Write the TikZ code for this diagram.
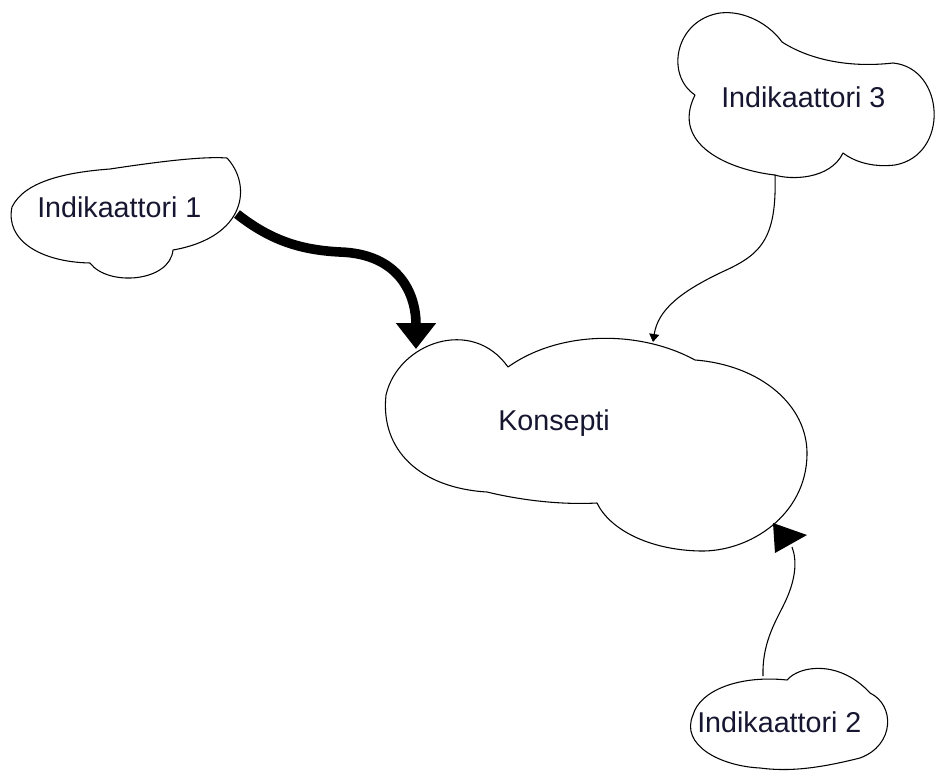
\documentclass[tikz,border=0pt]{standalone}
\usepackage{fontspec}
\setmainfont{Liberation Sans}
\usetikzlibrary{arrows.meta}
\definecolor{labelink}{RGB}{22,22,48}
\tikzset{
  cloudline/.style={draw=black, line width=0.8pt, fill=white, line join=round},
  label/.style={anchor=base west, inner sep=0pt, text=labelink,
                font=\fontsize{21.5}{26}\selectfont},
  thinlink/.style={draw=black, line width=0.8pt},
  thicklink/.style={draw=black, line width=7.2pt,
                    -{Triangle[length=19.5pt,width=29pt]}},
}
\begin{document}
\begin{tikzpicture}[x=0.75pt,y=-0.75pt]
\useasboundingbox (0,0) rectangle (939,771);

% --- cloud outlines ---
% Indikaattori 1
\path[cloudline] (12,207) .. controls (25,180) and (70,172) .. (110,169)
  .. controls (150,163) and (200,156) .. (227,158)
  .. controls (252,185) and (247,237) .. (173,250)
  .. controls (170,282) and (108,287) .. (90,263)
  .. controls (40,262) and (5,240) .. (12,207) -- cycle;

% Konsepti
\path[cloudline] (487,492) .. controls (420,488) and (380,450) .. (386,395)
  .. controls (398,343) and (472,316) .. (508,367)
  .. controls (560,330) and (640,330) .. (695,360)
  .. controls (760,365) and (808,405) .. (807,455)
  .. controls (806,515) and (750,552) .. (700,551)
  .. controls (650,550) and (610,530) .. (597,503)
  .. controls (560,505) and (520,500) .. (487,492) -- cycle;

% Indikaattori 3
\path[cloudline] (695,95) .. controls (665,75) and (675,20) .. (720,13)
  .. controls (745,10) and (770,25) .. (782,42)
  .. controls (810,60) and (850,68) .. (893,63)
  .. controls (945,68) and (950,155) .. (895,165)
  .. controls (870,168) and (852,160) .. (843,153)
  .. controls (830,180) and (790,180) .. (775,175)
  .. controls (730,170) and (670,145) .. (695,95) -- cycle;

% Indikaattori 2
\path[cloudline] (787,680) .. controls (800,665) and (840,660) .. (870,693)
  .. controls (895,705) and (895,745) .. (860,758)
  .. controls (820,768) and (790,772) .. (760,768)
  .. controls (720,766) and (680,745) .. (693,715)
  .. controls (700,690) and (740,675) .. (787,680) -- cycle;

% --- labels ---
\node[label] (ind1) at (37,217) {Indikaattori 1};
\node[label] (kons) at (498,430) {Konsepti};
\node[label] (ind3) at (721,107) {Indikaattori 3};
\node[label] (ind2) at (697,732) {Indikaattori 2};

% --- connection points on the outlines ---
\coordinate (ind1out) at (237,214);
\coordinate (konsin1) at (416,349);
\coordinate (ind3out) at (775,175);
\coordinate (konsin3) at (653,342);
\coordinate (ind2out) at (763,676);
\coordinate (konsin2) at (792,547);

% --- connectors ---
\draw[thicklink] (ind1out) .. controls (270,240) and (300,250) .. (340,252)
  .. controls (400,254) and (416,295) .. (konsin1);

\draw[thinlink, -{Triangle[length=6pt,width=7.5pt]}] (ind3out)
  .. controls (777,240) and (760,255) .. (722,272)
  .. controls (680,292) and (658,310) .. (konsin3);

\draw[thinlink] (ind2out) .. controls (762,640) and (778,618) .. (786,600)
  .. controls (796,578) and (797,560) .. (konsin2);
\fill[black] (773,523) -- (807,535) -- (775,553) -- cycle;
\end{tikzpicture}
\end{document}
